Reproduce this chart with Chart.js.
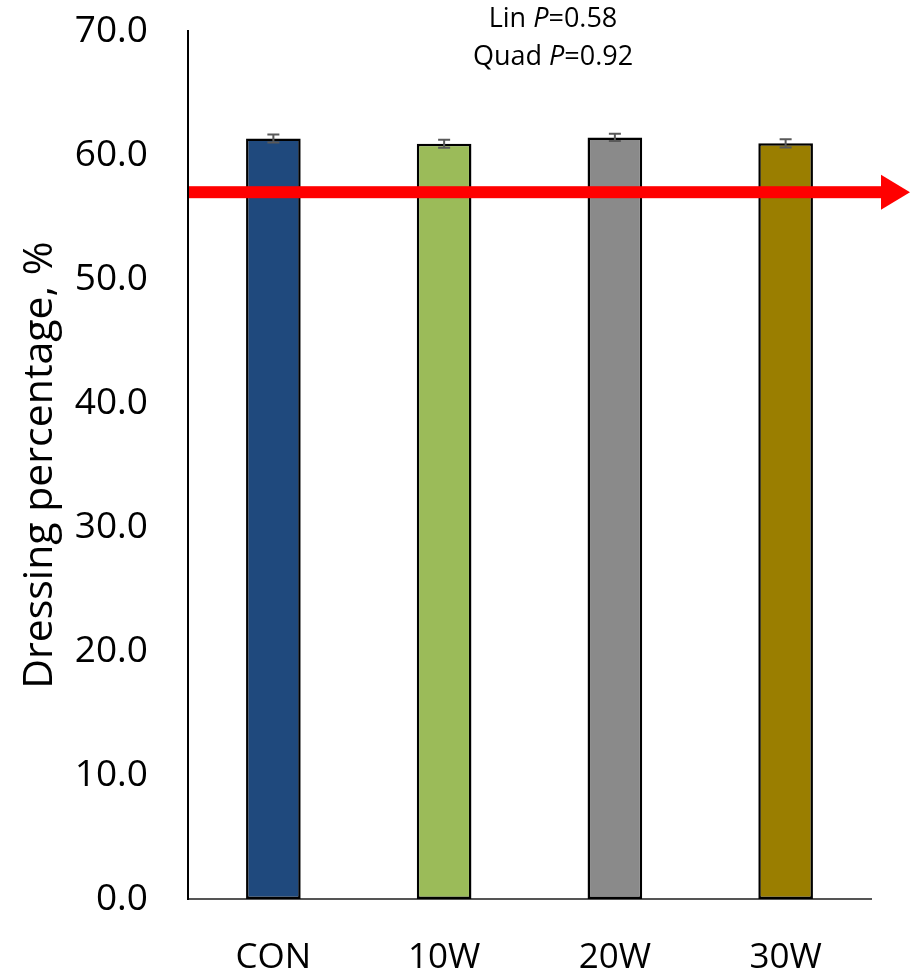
<!DOCTYPE html>
<html>
<head>
<meta charset="utf-8">
<script src="https://cdn.jsdelivr.net/npm/chart.js@4/dist/chart.umd.min.js"></script>
<style>
  html, body { margin: 0; padding: 0; background: #fff; }
  #wrap { width: 910px; height: 972px; }
</style>
</head>
<body>
<div id="wrap"><canvas id="c" width="910" height="972"></canvas></div>
<script>
// Dressing percentage by treatment
const categories = ['CON', '10W', '20W', '30W'];
const dressingMeans = [61.33, 60.91, 61.42, 60.94];
const dressingSE = [0.32, 0.32, 0.30, 0.33];
const barColors = ['#1F497D', '#9BBB59', '#8A8A8A', '#9A7E00'];
const referenceLine = 57.0;
const yTicks = { min: 0, max: 70, step: 10 };
const contrastNotes = [
  { label: 'Lin ', p: '0.58' },
  { label: 'Quad ', p: '0.92' }
];

const FONT = "'Open Sans', 'Noto Sans', sans-serif";

// Standard-error whiskers over each bar
const errorBars = {
  id: 'errorBars',
  afterDatasetsDraw(chart) {
    const { ctx, scales: { y } } = chart;
    const meta = chart.getDatasetMeta(0);
    ctx.save();
    ctx.strokeStyle = '#595959';
    ctx.lineWidth = 2;
    meta.data.forEach((bar, i) => {
      const x = bar.x;
      const top = y.getPixelForValue(dressingMeans[i] + dressingSE[i]);
      const bot = y.getPixelForValue(dressingMeans[i] - dressingSE[i]);
      ctx.beginPath();
      ctx.moveTo(x, top); ctx.lineTo(x, bot);
      ctx.moveTo(x - 6, top); ctx.lineTo(x + 6, top);
      ctx.moveTo(x - 6, bot); ctx.lineTo(x + 6, bot);
      ctx.stroke();
    });
    ctx.restore();
  }
};

// Red horizontal arrow at the reference level
const refArrow = {
  id: 'refArrow',
  afterDatasetsDraw(chart) {
    const { ctx, chartArea, scales: { y } } = chart;
    const yy = y.getPixelForValue(referenceLine);
    const x0 = chartArea.left + 1;
    const tip = chart.width;
    const headLen = 29;
    const half = 17.5;
    ctx.save();
    ctx.fillStyle = '#FF0000';
    ctx.fillRect(x0, yy - 6, tip - headLen - x0, 12);
    ctx.beginPath();
    ctx.moveTo(tip - headLen, yy - half);
    ctx.lineTo(tip, yy);
    ctx.lineTo(tip - headLen, yy + half);
    ctx.closePath();
    ctx.fill();
    ctx.restore();
  }
};

// Contrast P-values above the plot
const notes = {
  id: 'notes',
  afterDraw(chart) {
    const { ctx } = chart;
    const cx = 553;
    const rows = [19, 57];
    ctx.save();
    ctx.fillStyle = '#000';
    ctx.textBaseline = 'middle';
    contrastNotes.forEach((n, i) => {
      const normal = `27px ${FONT}`;
      const ital = `italic 27px ${FONT}`;
      ctx.font = normal;
      const w1 = ctx.measureText(n.label).width;
      ctx.font = ital;
      const w2 = ctx.measureText('P').width;
      ctx.font = normal;
      const w3 = ctx.measureText('=' + n.p).width;
      let x = cx - (w1 + w2 + w3) / 2;
      ctx.textAlign = 'left';
      ctx.font = normal; ctx.fillText(n.label, x, rows[i]); x += w1;
      ctx.font = ital; ctx.fillText('P', x, rows[i]); x += w2;
      ctx.font = normal; ctx.fillText('=' + n.p, x, rows[i]);
    });
    ctx.restore();
  }
};

new Chart(document.getElementById('c'), {
  type: 'bar',
  data: {
    labels: categories,
    datasets: [{
      data: dressingMeans,
      backgroundColor: barColors,
      borderColor: '#000',
      borderWidth: 2.5,
      borderSkipped: false,
      categoryPercentage: 1,
      barPercentage: 0.32
    }]
  },
  options: {
    responsive: false,
    animation: false,
    devicePixelRatio: 1,
    layout: { padding: { top: 31, right: 39, left: 0, bottom: 0 } },
    plugins: { legend: { display: false }, tooltip: { enabled: false } },
    scales: {
      x: {
        grid: { display: false, drawTicks: false },
        border: { display: true, color: '#555', width: 2 },
        ticks: { color: '#000', font: { family: FONT, size: 35 }, padding: 38 },
        afterFit(s) { s.height = 73; s.paddingLeft = 0; s.paddingRight = 0; }
      },
      y: {
        min: yTicks.min,
        max: yTicks.max,
        grid: { display: false, drawTicks: false },
        border: { display: true, color: '#000', width: 2 },
        ticks: {
          stepSize: yTicks.step,
          color: '#000',
          font: { family: FONT, size: 37 },
          padding: 40,
          callback: v => Number(v).toFixed(1)
        },
        title: {
          display: true,
          text: 'Dressing percentage, %',
          color: '#000',
          font: { family: FONT, size: 41 },
          padding: { top: 16, bottom: 0 }
        },
        afterFit(s) { s.width = 188; s.paddingTop = 0; s.paddingBottom = 0; }
      }
    }
  },
  plugins: [errorBars, refArrow, notes]
});
</script>
</body>
</html>
